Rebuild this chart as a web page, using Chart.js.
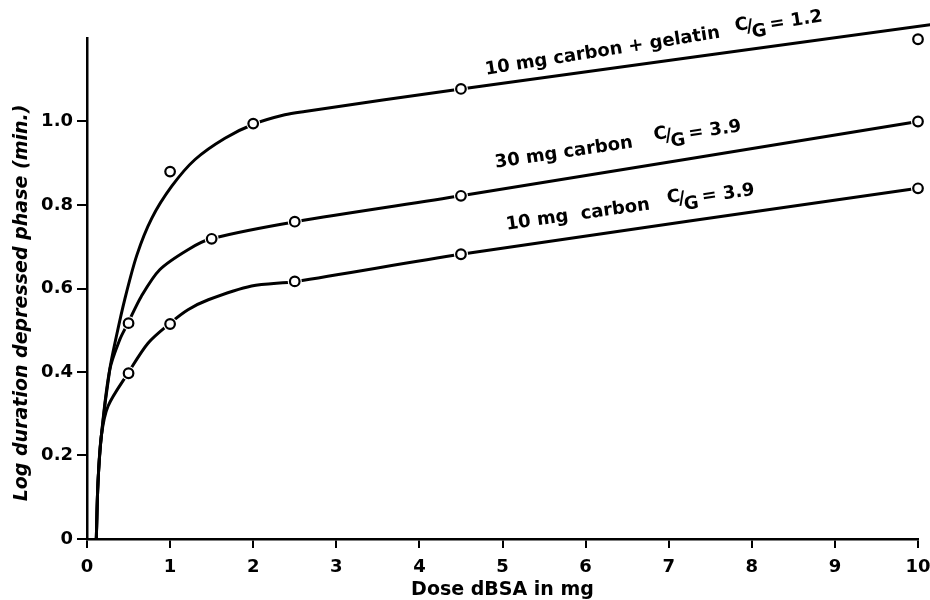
<!DOCTYPE html>
<html>
<head>
<meta charset="utf-8">
<script src="https://cdn.jsdelivr.net/npm/chart.js@4.4.0/dist/chart.umd.min.js"></script>
<style>
  body { margin: 0; background: #fff; }
  canvas { display: block; }
</style>
</head>
<body>
<canvas id="chart" width="930" height="600"></canvas>
<script>
// measured points (open circles)
const gelatinDose = [1, 2, 4.5, 10];
const gelatinLog = [0.88, 0.995, 1.078, 1.197];
const carbon30Dose = [0.5, 1.5, 2.5, 4.5, 10];
const carbon30Log = [0.517, 0.719, 0.760, 0.822, 1.0];
const carbon10Dose = [0.5, 1, 2.5, 4.5, 10];
const carbon10Log = [0.397, 0.515, 0.617, 0.682, 0.840];

// hand-drawn fitted curves
const gelatinCurveDose = [0.112, 0.132, 0.172, 0.273, 0.353, 0.453, 0.60, 0.779, 1.02, 1.30, 1.66, 2.01, 2.38, 2.62, 4.5, 10.15];
const gelatinCurveLog = [0, 0.134, 0.246, 0.405, 0.485, 0.573, 0.68, 0.768, 0.845, 0.909, 0.960, 0.994, 1.016, 1.024, 1.078, 1.232];
const carbon30CurveDose = [0.112, 0.132, 0.172, 0.273, 0.393, 0.493, 0.653, 0.875, 1.215, 1.49, 2.51, 4.5, 10];
const carbon30CurveLog = [0, 0.134, 0.246, 0.405, 0.477, 0.517, 0.581, 0.645, 0.693, 0.719, 0.760, 0.822, 1.0];
const carbon10CurveDose = [0.112, 0.132, 0.172, 0.253, 0.493, 0.734, 0.995, 1.215, 1.46, 1.98, 2.51, 4.5, 10];
const carbon10CurveLog = [0, 0.134, 0.246, 0.318, 0.397, 0.469, 0.516, 0.549, 0.573, 0.606, 0.617, 0.682, 0.840];

const xTicks = [0, 1, 2, 3, 4, 5, 6, 7, 8, 9, 10];
const yTicks = [0, 0.2, 0.4, 0.6, 0.8, 1.0];

const curveLabels = [
  { text: '10 mg carbon + gelatin', ratio: '1.2', dose: 4.80, log: 1.112, angle: -9, gap: 16 },
  { text: '30 mg carbon', ratio: '3.9', dose: 4.92, log: 0.889, angle: -8.5, gap: 22 },
  { text: '10 mg  carbon', ratio: '3.9', dose: 5.05, log: 0.741, angle: -8, gap: 18 }
];

const FONT = '"DejaVu Sans", sans-serif';

const toXY = (xs, ys) => xs.map((v, i) => ({ x: v, y: ys[i] }));

const curve = (xs, ys) => ({
  data: toXY(xs, ys),
  showLine: true,
  borderColor: '#000',
  borderWidth: 3,
  pointRadius: 0,
  tension: 0.3,
  clip: false,
  order: 3
});

const halo = (xs, ys) => ({
  data: toXY(xs, ys),
  showLine: false,
  pointRadius: 7,
  pointBorderWidth: 0,
  pointBackgroundColor: '#fff',
  clip: false,
  order: 2
});

const marks = (xs, ys) => ({
  data: toXY(xs, ys),
  showLine: false,
  pointRadius: 4.8,
  pointBorderWidth: 2.2,
  pointBorderColor: '#000',
  pointBackgroundColor: '#fff',
  clip: false,
  order: 1
});

const textPlugin = {
  id: 'textPlugin',
  afterDatasetsDraw(chart) {
    const { ctx, scales: { x, y } } = chart;
    ctx.save();
    ctx.fillStyle = '#000';
    ctx.font = 'bold 18px ' + FONT;
    ctx.textBaseline = 'alphabetic';
    curveLabels.forEach(l => {
      ctx.save();
      ctx.translate(x.getPixelForValue(l.dose), y.getPixelForValue(l.log));
      ctx.rotate(l.angle * Math.PI / 180);
      ctx.fillText(l.text, 0, 0);
      let cx = ctx.measureText(l.text).width + l.gap;
      ctx.fillText('C', cx, -4);
      cx += ctx.measureText('C').width - 2;
      ctx.fillText('/', cx, -1);
      cx += ctx.measureText('/').width - 2;
      ctx.fillText('G', cx, 5);
      cx += ctx.measureText('G').width + 4;
      ctx.fillText('= ' + l.ratio, cx, 0);
      ctx.restore();
    });

    // y axis title
    ctx.font = 'italic bold 19px ' + FONT;
    ctx.textAlign = 'center';
    ctx.textBaseline = 'middle';
    ctx.translate(22, 303);
    ctx.rotate(-Math.PI / 2);
    ctx.fillText('Log duration depressed phase (min.)', 0, 0);
    ctx.restore();
  }
};

new Chart(document.getElementById('chart'), {
  type: 'scatter',
  data: {
    datasets: [
      curve(gelatinCurveDose, gelatinCurveLog),
      curve(carbon30CurveDose, carbon30CurveLog),
      curve(carbon10CurveDose, carbon10CurveLog),
      halo(gelatinDose, gelatinLog),
      halo(carbon30Dose, carbon30Log),
      halo(carbon10Dose, carbon10Log),
      marks(gelatinDose, gelatinLog),
      marks(carbon30Dose, carbon30Log),
      marks(carbon10Dose, carbon10Log)
    ]
  },
  options: {
    responsive: false,
    animation: false,
    devicePixelRatio: 1,
    layout: { padding: { top: 38, right: 0, left: 0, bottom: 0 } },
    plugins: {
      legend: { display: false },
      tooltip: { enabled: false }
    },
    scales: {
      x: {
        type: 'linear',
        min: 0,
        max: 10,
        afterFit: s => { s.height = 61; s.paddingLeft = 0; s.paddingRight = 12; },
        afterBuildTicks: s => { s.ticks = xTicks.map(v => ({ value: v })); },
        ticks: { color: '#000', font: { family: FONT, size: 18, weight: 'bold' }, padding: 9, maxRotation: 0 },
        grid: { drawOnChartArea: false, color: '#000', lineWidth: 2, tickLength: 9 },
        border: { color: '#000', width: 2.5 },
        title: {
          display: true,
          text: 'Dose dBSA in mg',
          color: '#000',
          font: { family: FONT, size: 19, weight: 'bold' },
          padding: { top: 0, bottom: -1 }
        }
      },
      y: {
        type: 'linear',
        min: 0,
        max: 1.2,
        afterFit: s => { s.width = 87; s.paddingTop = 0; s.paddingBottom = 0; },
        afterBuildTicks: s => { s.ticks = yTicks.map(v => ({ value: v })); },
        ticks: {
          color: '#000',
          font: { family: FONT, size: 18, weight: 'bold' },
          padding: 4,
          callback: v => (v === 0 ? '0' : v.toFixed(1))
        },
        grid: { drawOnChartArea: false, color: '#000', lineWidth: 2, tickLength: 10 },
        border: { color: '#000', width: 2.5 }
      }
    }
  },
  plugins: [textPlugin]
});
</script>
</body>
</html>
